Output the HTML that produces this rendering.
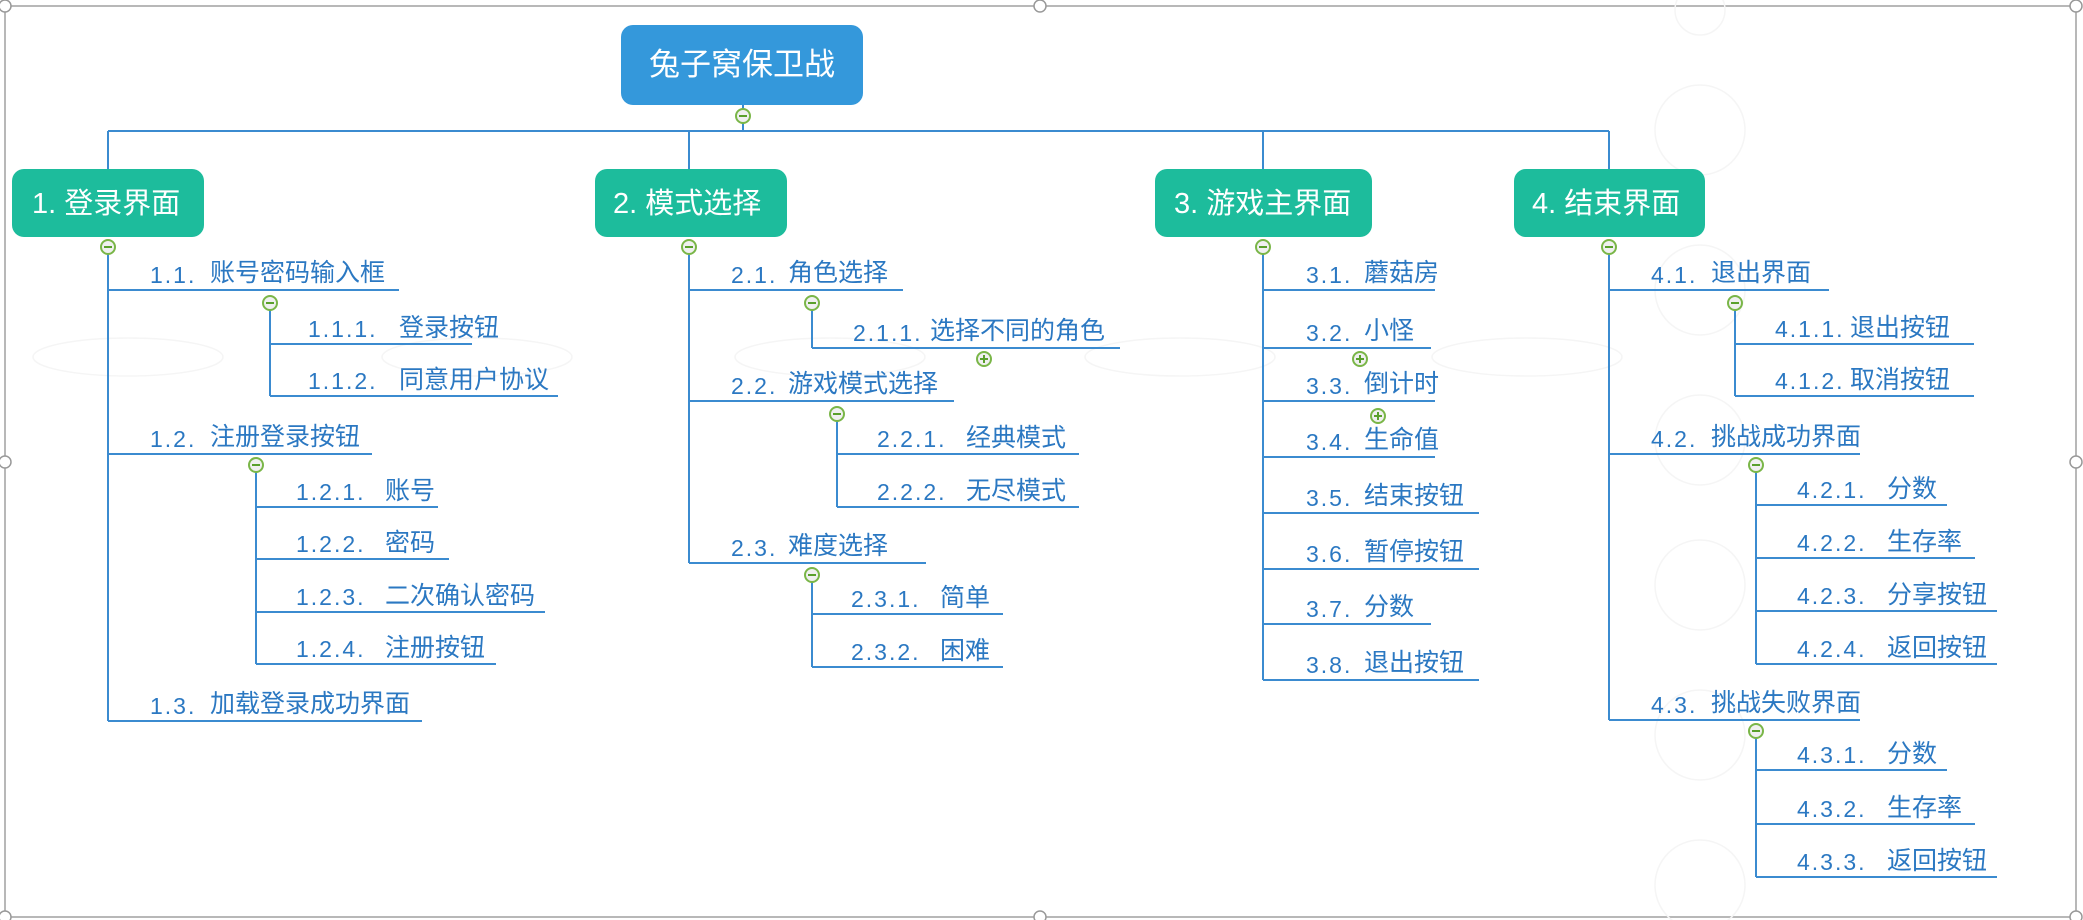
<!DOCTYPE html>
<html><head><meta charset="utf-8"><style>
html,body{margin:0;padding:0;background:#fff;}
svg{display:block;}
text{font-family:"Liberation Sans","Noto Sans CJK SC",sans-serif;}
.t{font-size:25px;fill:#2b78c2;}
.t text:nth-child(odd){font-size:23px;letter-spacing:2px;}
.l{stroke:#3b8bd0;stroke-width:2;fill:none;}
.h{font-size:29px;fill:#fff;}
</style></head><body>
<svg width="2083" height="920" viewBox="0 0 2083 920" xmlns="http://www.w3.org/2000/svg">
<defs>
<g id="mn"><circle r="7" fill="#f0f0f0" stroke="#7ab648" stroke-width="2"/><line x1="-4" y1="0" x2="4" y2="0" stroke="#5aa02c" stroke-width="2"/></g>
<g id="pl"><circle r="7" fill="#f0f0f0" stroke="#7ab648" stroke-width="2"/><line x1="-4" y1="0" x2="4" y2="0" stroke="#5aa02c" stroke-width="2"/><line x1="0" y1="-4" x2="0" y2="4" stroke="#5aa02c" stroke-width="2"/></g>
</defs>
<rect x="5" y="6" width="2071" height="911" fill="none" stroke="#a0a0a0" stroke-width="1.5"/>
<g fill="#fff" stroke="#999" stroke-width="1.5">
<circle cx="5" cy="6" r="6"/><circle cx="1040" cy="6" r="6"/><circle cx="2076" cy="6" r="6"/>
<circle cx="5" cy="462" r="6"/><circle cx="2076" cy="462" r="6"/>
<circle cx="5" cy="917" r="6"/><circle cx="1040" cy="917" r="6"/><circle cx="2076" cy="917" r="6"/>
</g>
<g fill="none" stroke="#f5f5f5" stroke-width="1.5">
<ellipse cx="128" cy="357" rx="95" ry="19"/><ellipse cx="477" cy="357" rx="95" ry="19"/>
<ellipse cx="830" cy="357" rx="95" ry="19"/><ellipse cx="1180" cy="357" rx="95" ry="19"/><ellipse cx="1527" cy="357" rx="95" ry="19"/>
<circle cx="1700" cy="10" r="25"/><ellipse cx="1700" cy="130" rx="45" ry="45"/><ellipse cx="1700" cy="290" rx="45" ry="45"/>
<ellipse cx="1700" cy="440" rx="45" ry="45"/><ellipse cx="1700" cy="585" rx="45" ry="45"/><ellipse cx="1700" cy="735" rx="45" ry="45"/><ellipse cx="1700" cy="885" rx="45" ry="45"/>
</g>
<rect x="621" y="25" width="242" height="80" rx="12" fill="#3498db"/>
<text x="742" y="75" text-anchor="middle" style="font-size:31px;fill:#fff">兔子窝保卫战</text>
<path class="l" d="M743 105V131M108 131H1609M108 131V169M689 131V169M1263 131V169M1609 131V169"/>
<use href="#mn" x="743" y="116"/>
<rect x="12" y="169" width="192" height="68" rx="12" fill="#1dbc9c"/>
<text class="h" x="32" y="213">1.  登录界面</text>
<rect x="595" y="169" width="192" height="68" rx="12" fill="#1dbc9c"/>
<text class="h" x="613" y="213">2.  模式选择</text>
<rect x="1155" y="169" width="217" height="68" rx="12" fill="#1dbc9c"/>
<text class="h" x="1174" y="213">3.  游戏主界面</text>
<rect x="1514" y="169" width="191" height="68" rx="12" fill="#1dbc9c"/>
<text class="h" x="1532" y="213">4.  结束界面</text>

<path class="l" d="M108 247V721M108 290H399M270 303V396M270 344H472M270 396H558M108 454H372M256 465V664M256 507H438M256 559H449M256 612H545M256 664H496M108 721H422"/>
<g class="t">
<text x="150" y="283">1.1.</text><text x="210" y="281">账号密码输入框</text>
<text x="308" y="337">1.1.1.</text><text x="399" y="336">登录按钮</text>
<text x="308" y="389">1.1.2.</text><text x="399" y="388">同意用户协议</text>
<text x="150" y="447">1.2.</text><text x="210" y="445">注册登录按钮</text>
<text x="296" y="500">1.2.1.</text><text x="385" y="499">账号</text>
<text x="296" y="552">1.2.2.</text><text x="385" y="551">密码</text>
<text x="296" y="605">1.2.3.</text><text x="385" y="604">二次确认密码</text>
<text x="296" y="657">1.2.4.</text><text x="385" y="656">注册按钮</text>
<text x="150" y="714">1.3.</text><text x="210" y="712">加载登录成功界面</text>
</g>
<use href="#mn" x="108" y="247"/><use href="#mn" x="270" y="303"/><use href="#mn" x="256" y="465"/>

<path class="l" d="M689 247V563M689 290H903M812 303V348M812 348H1120M689 401H954M837 414V507M837 454H1079M837 507H1079M689 563H926M812 575V667M812 614H1003M812 667H1003"/>
<g class="t">
<text x="731" y="283">2.1.</text><text x="788" y="281">角色选择</text>
<text x="853" y="341">2.1.1.</text><text x="930" y="339">选择不同的角色</text>
<text x="731" y="394">2.2.</text><text x="788" y="392">游戏模式选择</text>
<text x="877" y="447">2.2.1.</text><text x="966" y="446">经典模式</text>
<text x="877" y="500">2.2.2.</text><text x="966" y="499">无尽模式</text>
<text x="731" y="556">2.3.</text><text x="788" y="554">难度选择</text>
<text x="851" y="607">2.3.1.</text><text x="940" y="606">简单</text>
<text x="851" y="660">2.3.2.</text><text x="940" y="659">困难</text>
</g>
<use href="#mn" x="689" y="247"/><use href="#mn" x="812" y="303"/><use href="#pl" x="984" y="359"/><use href="#mn" x="837" y="414"/><use href="#mn" x="812" y="575"/>

<path class="l" d="M1263 247V680M1263 290H1435M1263 348H1431M1263 401H1435M1263 457H1435M1263 513H1479M1263 569H1479M1263 624H1431M1263 680H1479"/>
<g class="t">
<text x="1306" y="283">3.1.</text><text x="1364" y="281">蘑菇房</text>
<text x="1306" y="341">3.2.</text><text x="1364" y="339">小怪</text>
<text x="1306" y="394">3.3.</text><text x="1364" y="392">倒计时</text>
<text x="1306" y="450">3.4.</text><text x="1364" y="448">生命值</text>
<text x="1306" y="506">3.5.</text><text x="1364" y="504">结束按钮</text>
<text x="1306" y="562">3.6.</text><text x="1364" y="560">暂停按钮</text>
<text x="1306" y="617">3.7.</text><text x="1364" y="615">分数</text>
<text x="1306" y="673">3.8.</text><text x="1364" y="671">退出按钮</text>
</g>
<use href="#mn" x="1263" y="247"/><use href="#pl" x="1360" y="359"/><use href="#pl" x="1378" y="416"/>

<path class="l" d="M1609 247V720M1609 290H1829M1735 303V396M1735 344H1974M1735 396H1974M1609 454H1860M1756 465V664M1756 505H1947M1756 558H1975M1756 611H1997M1756 664H1997M1609 720H1860M1756 731V877M1756 770H1947M1756 824H1975M1756 877H1997"/>
<g class="t">
<text x="1651" y="283">4.1.</text><text x="1711" y="281">退出界面</text>
<text x="1775" y="337">4.1.1.</text><text x="1850" y="336">退出按钮</text>
<text x="1775" y="389">4.1.2.</text><text x="1850" y="388">取消按钮</text>
<text x="1651" y="447">4.2.</text><text x="1711" y="445">挑战成功界面</text>
<text x="1797" y="498">4.2.1.</text><text x="1887" y="497">分数</text>
<text x="1797" y="551">4.2.2.</text><text x="1887" y="550">生存率</text>
<text x="1797" y="604">4.2.3.</text><text x="1887" y="603">分享按钮</text>
<text x="1797" y="657">4.2.4.</text><text x="1887" y="656">返回按钮</text>
<text x="1651" y="713">4.3.</text><text x="1711" y="711">挑战失败界面</text>
<text x="1797" y="763">4.3.1.</text><text x="1887" y="762">分数</text>
<text x="1797" y="817">4.3.2.</text><text x="1887" y="816">生存率</text>
<text x="1797" y="870">4.3.3.</text><text x="1887" y="869">返回按钮</text>
</g>
<use href="#mn" x="1609" y="247"/><use href="#mn" x="1735" y="303"/><use href="#mn" x="1756" y="465"/><use href="#mn" x="1756" y="731"/>
</svg>
</body></html>
